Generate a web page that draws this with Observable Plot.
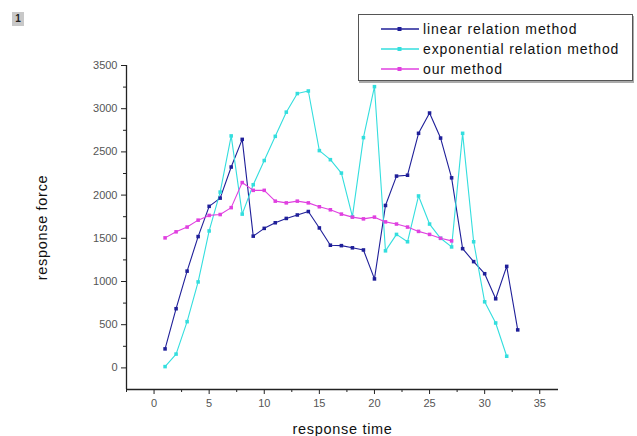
<!DOCTYPE html>
<html>
<head>
<meta charset="utf-8">
<script src="https://cdn.jsdelivr.net/npm/d3@7"></script>
<script src="https://cdn.jsdelivr.net/npm/@observablehq/plot@0.6"></script>
<style>
  html, body { margin: 0; padding: 0; background: #fff; }
  #wrap { position: relative; width: 637px; height: 436px; font-family: "Liberation Sans", Arial, sans-serif; }
  #badge { position: absolute; left: 12px; top: 12px; width: 12px; height: 14px; background: #c8c8c8; font-size: 10px; font-weight: bold; text-align: center; line-height: 14px; color: #222; }
  #legend { position: absolute; left: 358px; top: 14px; width: 273px; height: 65px; border: 1px solid #555; box-shadow: 1px 2px 0 #aaa; background: #fff; }
  .row { position: absolute; left: 22px; height: 20px; display: flex; align-items: center; font-size: 14px; letter-spacing: 0.9px; color: #111; }
  .row svg { margin-right: 4px; }
</style>
</head>
<body>
<div id="wrap">
  <div id="chart"></div>
  <div id="badge">1</div>
  <div id="legend"></div>
</div>
<script>
const seriesNames = ["linear relation method", "exponential relation method", "our method"];
const seriesColors = ["#1f1f99", "#33dede", "#e040e0"];

const linear = [220, 685, 1120, 1520, 1870, 1965, 2325, 2645, 1525, 1615, 1680, 1730, 1770, 1810, 1620, 1420, 1415, 1390, 1365, 1030, 1880, 2220, 2230, 2715, 2950, 2660, 2200, 1380, 1230, 1090, 800, 1175, 440];
const exponential = [15, 160, 535, 995, 1585, 2035, 2685, 1780, 2120, 2400, 2680, 2960, 3175, 3205, 2515, 2410, 2255, 1750, 2665, 3255, 1355, 1545, 1460, 1990, 1665, 1500, 1400, 2715, 1460, 765, 520, 135];
const ours = [1505, 1575, 1630, 1710, 1765, 1775, 1855, 2145, 2055, 2055, 1930, 1910, 1930, 1910, 1865, 1830, 1780, 1745, 1725, 1745, 1690, 1665, 1630, 1580, 1545, 1500, 1470];

const xTicks = [0, 5, 10, 15, 20, 25, 30, 35];
const xMinor = [-2.5, 2.5, 7.5, 12.5, 17.5, 22.5, 27.5, 32.5];
const yTicks = [0, 500, 1000, 1500, 2000, 2500, 3000, 3500];
const yMinor = [250, 750, 1250, 1750, 2250, 2750, 3250];
const xDomain = [-2.5, 36.7];
const yDomain = [-250, 3500];

const allSeries = [linear, exponential, ours];
const data = allSeries.flatMap((vals, s) => vals.map((v, i) => ({series: seriesNames[s], t: i + 1, f: v})));

const chart = Plot.plot({
  width: 637,
  height: 436,
  marginLeft: 126,
  marginRight: 79,
  marginTop: 65,
  marginBottom: 47,
  style: {fontFamily: "Liberation Sans, Arial, sans-serif", background: "#fff", overflow: "visible"},
  x: {domain: xDomain, label: null},
  y: {domain: yDomain, label: null},
  color: {domain: seriesNames, range: seriesColors},
  marks: [
    Plot.axisY(yMinor, {tickSize: 3, text: null, label: null, stroke: "#222"}),
    Plot.axisY(yTicks, {tickSize: 5, tickPadding: 4, fontSize: 11, fill: "#555", stroke: "#222",
      tickFormat: d => String(d),
      label: "response force", labelAnchor: "center", labelArrow: "none", labelOffset: 90}),
    Plot.axisX(xMinor, {tickSize: 3, text: null, label: null, stroke: "#222"}),
    Plot.axisX(xTicks, {tickSize: 5, tickPadding: 5, fontSize: 11, fill: "#555", stroke: "#222",
      tickFormat: d => String(d),
      label: "response time", labelAnchor: "center", labelArrow: "none", labelOffset: 44}),
    Plot.ruleX([xDomain[0]], {y1: yDomain[0], y2: yDomain[1], stroke: "#222", strokeWidth: 1.3}),
    Plot.ruleY([yDomain[0]], {x1: xDomain[0], x2: xDomain[1], stroke: "#222", strokeWidth: 1.3}),
    Plot.line(data, {x: "t", y: "f", z: "series", stroke: "series", strokeWidth: 1.1}),
    Plot.dot(data, {x: "t", y: "f", fill: "series", symbol: "square", r: 2})
  ]
});
chart.querySelectorAll("g[aria-label='y-axis label'] text, g[aria-label='x-axis label'] text").forEach(t => {
  t.setAttribute("font-size", "14.5");
  t.setAttribute("fill", "#111");
  t.setAttribute("letter-spacing", "0.7");
});
document.getElementById("chart").appendChild(chart);

const legend = document.getElementById("legend");
seriesNames.forEach((name, i) => {
  const row = document.createElement("div");
  row.className = "row";
  row.style.top = (4 + i * 20) + "px";
  row.innerHTML = `<svg width="38" height="10"><line x1="0" y1="5" x2="38" y2="5" stroke="${seriesColors[i]}" stroke-width="1.3"/><rect x="16.5" y="3" width="4" height="4" fill="${seriesColors[i]}"/></svg><span>${name}</span>`;
  legend.appendChild(row);
});
</script>
</body>
</html>
